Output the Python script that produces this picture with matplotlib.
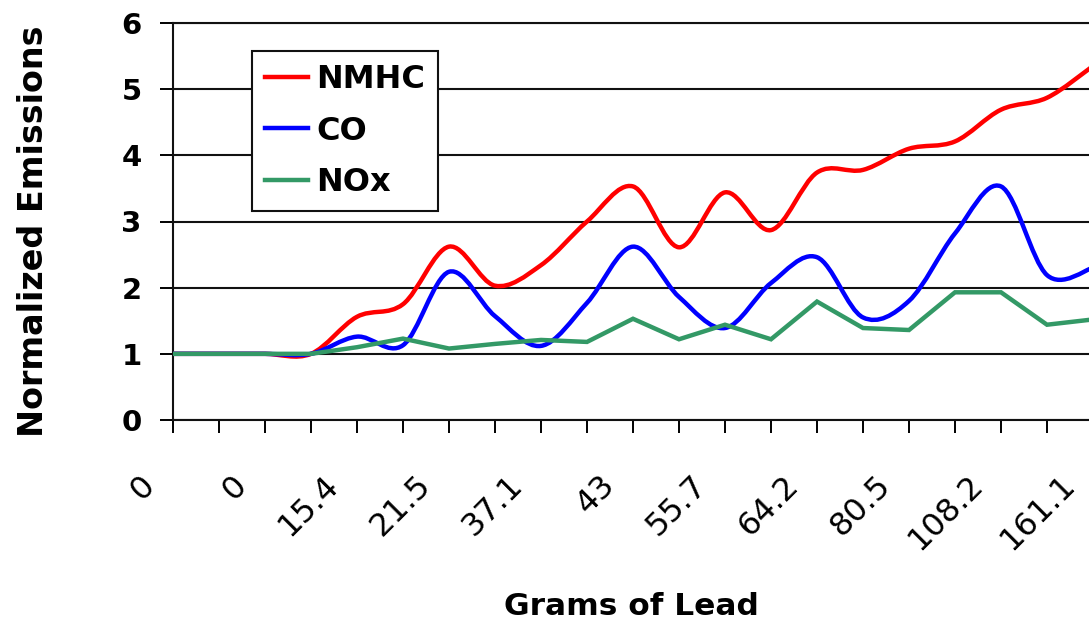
import matplotlib
matplotlib.use("Agg")
import matplotlib.pyplot as plt
import matplotlib.transforms as mtransforms
from matplotlib.path import Path
from matplotlib.patches import PathPatch
from matplotlib.lines import Line2D

# categories (every other one is labelled on the axis)
n_points = 21
tick_labels = ['0', '0', '15.4', '21.5', '37.1', '43', '55.7', '64.2', '80.5', '108.2', '161.1']

nmhc = [1.0, 1.0, 1.0, 1.0, 1.56, 1.75, 2.62, 2.03, 2.34, 3.0, 3.53,
        2.61, 3.44, 2.87, 3.74, 3.78, 4.1, 4.21, 4.69, 4.87, 5.35]
co = [1.0, 1.0, 1.0, 1.0, 1.26, 1.13, 2.24, 1.57, 1.12, 1.77, 2.62,
      1.86, 1.39, 2.07, 2.46, 1.55, 1.8, 2.82, 3.53, 2.19, 2.3]
nox = [1.0, 1.0, 1.0, 1.0, 1.1, 1.23, 1.08, 1.15, 1.21, 1.18, 1.53,
       1.22, 1.44, 1.22, 1.79, 1.39, 1.36, 1.93, 1.93, 1.44, 1.52]

series = [('NMHC', nmhc, '#ff0000', True),
          ('CO', co, '#0000ff', True),
          ('NOx', nox, '#339966', False)]


def smooth_path(xs, ys, t=1/6):
    # excel-style smoothed line: cubic bezier through every point
    verts = [(xs[0], ys[0])]
    codes = [Path.MOVETO]
    n = len(xs)
    for i in range(n - 1):
        a = i - 1 if i > 0 else i
        b = i + 2 if i + 2 < n else i + 1
        c1 = (xs[i] + (xs[i + 1] - xs[a]) * t, ys[i] + (ys[i + 1] - ys[a]) * t)
        c2 = (xs[i + 1] - (xs[b] - xs[i]) * t, ys[i + 1] - (ys[b] - ys[i]) * t)
        verts += [c1, c2, (xs[i + 1], ys[i + 1])]
        codes += [Path.CURVE4] * 3
    return Path(verts, codes)


fig = plt.figure(figsize=(10.89, 6.25), dpi=100)
ax = fig.add_axes([173 / 1089, 205 / 625, 920 / 1089, 397 / 625])

x = list(range(n_points))
handles = []
for name, vals, col, smooth in series:
    if smooth:
        ax.add_patch(PathPatch(smooth_path(x, vals), fill=False, edgecolor=col,
                               lw=3.2, capstyle='round', joinstyle='round', zorder=3))
    else:
        ax.plot(x, vals, color=col, lw=3.2, zorder=3, solid_joinstyle='miter')
    handles.append(Line2D([], [], color=col, lw=3.2))

ax.set_xlim(0, n_points - 1)
ax.set_ylim(0, 6)
ax.set_yticks(range(0, 7))
ax.yaxis.grid(True, color='#111111', lw=1.5)
ax.set_axisbelow(True)

ax.spines['right'].set_visible(False)
for s in ['left', 'bottom', 'top']:
    ax.spines[s].set_linewidth(1.5)
    ax.spines[s].set_color('#111111')

ax.set_xticks(range(0, n_points, 2))
ax.set_xticks(range(n_points), minor=True)
ax.set_xticklabels(tick_labels, rotation=45, ha='right', va='center',
                   rotation_mode='anchor', fontsize=23)
ax.tick_params(axis='x', which='both', length=9.5, width=1.4, pad=34)
ax.tick_params(axis='y', length=9.5, width=1.4, pad=13, labelsize=21)
for lab in ax.get_yticklabels():
    lab.set_fontweight('bold')
shift = mtransforms.ScaledTranslation(-23 / 100, 0, fig.dpi_scale_trans)
for lab in ax.get_xticklabels():
    lab.set_transform(lab.get_transform() + shift)

fig.text(34 / 1089, 1 - 231 / 625, 'Normalized Emissions', rotation=90,
         ha='center', va='center', fontsize=24, fontweight='bold')
fig.text(631 / 1089, 1 - 615 / 625, 'Grams of Lead', ha='center',
         va='baseline', fontsize=22.5, fontweight='bold')

leg = ax.legend(handles, [s[0] for s in series], loc='upper left',
                bbox_to_anchor=(252 / 1089, 1 - 51 / 625),
                bbox_transform=fig.transFigure, borderaxespad=0,
                prop={'weight': 'bold', 'size': 23}, handlelength=1.35,
                handletextpad=0.25, labelspacing=0.65, borderpad=0.4,
                fancybox=False, framealpha=1, edgecolor='#111111')
leg.get_frame().set_linewidth(1.5)

fig.savefig('out.png', dpi=100)
